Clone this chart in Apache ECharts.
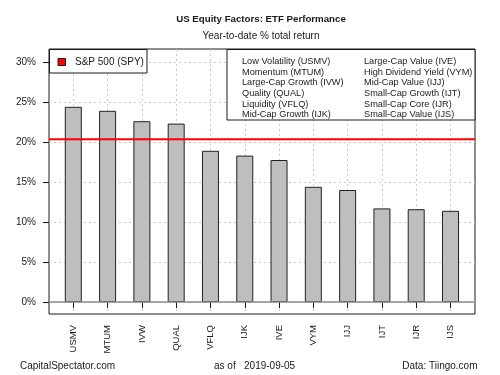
<!DOCTYPE html>
<html>
<head>
<meta charset="utf-8">
<script src="https://cdn.jsdelivr.net/npm/echarts@6/dist/echarts.min.js"></script>
<style>
    *{ margin:0; padding:0; }
    body{ background:#fff; }
    #chart{ width:500px; height:375px; }
</style>
</head>
<body>
<div id="chart"></div>
<script>
// data
var tickers = ['USMV', 'MTUM', 'IVW', 'QUAL', 'VFLQ', 'IJK', 'IVE', 'VYM', 'IJJ', 'IJT', 'IJR', 'IJS'];
var ytdReturn = [24.4, 23.9, 22.6, 22.3, 18.9, 18.3, 17.75, 14.4, 14.0, 11.7, 11.6, 11.4];
var spyReturn = 20.35;
var yTicks = [0, 5, 10, 15, 20, 25, 30];
var factorLeft = ['Low Volatility (USMV)', 'Momentum (MTUM)', 'Large-Cap Growth (IVW)', 'Quality (QUAL)', 'Liquidity (VFLQ)', 'Mid-Cap Growth (IJK)'];
var factorRight = ['Large-Cap Value (IVE)', 'High Dividend Yield (VYM)', 'Mid-Cap Value (IJJ)', 'Small-Cap Growth (IJT)', 'Small-Cap Core (IJR)', 'Small-Cap Value (IJS)'];

var FONT = "'Liberation Sans', Arial, sans-serif";
var INK = '#1a1a1a';
var yMin = -1.5, yMax = 31.625;

var chart = echarts.init(document.getElementById('chart'));

function txt(x, y, s, size, opts) {
    var st = { text: s, x: x, y: y, fontFamily: FONT, fontSize: size, fill: INK,
        textAlign: 'left', textVerticalAlign: 'middle' };
    for (var k in opts) st[k] = opts[k];
    return { type: 'text', z: 20, style: st };
}

var graphics = [
    txt(261, 19.5, 'US Equity Factors: ETF Performance', 9.7, { fontWeight: 'bold', textAlign: 'center' }),
    txt(261, 36.7, 'Year-to-date % total return', 10, { textAlign: 'center' }),
    txt(20, 366.5, 'CapitalSpectator.com', 10),
    txt(214, 366.5, 'as of   2019-09-05', 10),
    txt(477.5, 366.5, 'Data: Tiingo.com', 10, { textAlign: 'right' }),
    // legend box: S&P 500
    { type: 'rect', z: 10, shape: { x: 49.5, y: 49.5, width: 97.5, height: 23.5 },
      style: { fill: '#fff', stroke: INK, lineWidth: 1 } },
    { type: 'rect', z: 11, shape: { x: 58, y: 58.5, width: 7.5, height: 7 },
      style: { fill: '#ff0000', stroke: INK, lineWidth: 1 } },
    txt(75, 62.3, 'S&P 500 (SPY)', 10),
    // legend box: factor names
    { type: 'rect', z: 10, shape: { x: 227, y: 49.5, width: 248, height: 70.5 },
      style: { fill: '#fff', stroke: INK, lineWidth: 1 } }
];
factorLeft.forEach(function (s, i) {
    graphics.push(txt(242, 61.7 + i * 10.6, s, 9.2));
});
factorRight.forEach(function (s, i) {
    graphics.push(txt(364, 61.7 + i * 10.6, s, 9.2));
});

var option = {
    animation: false,
    backgroundColor: '#fff',
    textStyle: { fontFamily: FONT },
    grid: [
        { left: 49, right: 25, top: 49, bottom: 61, show: true,
          borderColor: INK, borderWidth: 1, backgroundColor: 'transparent' },
        { left: 73.3, right: 49.5, top: 49, bottom: 61 }
    ],
    xAxis: [
        { gridIndex: 0, type: 'value', min: 0, max: 1, show: false },
        { gridIndex: 1, type: 'category', data: tickers, boundaryGap: false,
          axisLine: { show: false },
          axisTick: { show: true, length: 6, inside: false, lineStyle: { color: INK } },
          axisLabel: { rotate: 90, margin: 11, fontSize: 9.5, color: INK, interval: 0, fontFamily: FONT },
          splitLine: { show: true, lineStyle: { color: '#c8c8c8', type: [2, 3] } } }
    ],
    yAxis: [
        { gridIndex: 0, type: 'value', min: yMin, max: yMax,
          axisLine: { show: false },
          axisTick: { show: true, length: 6, customValues: yTicks, lineStyle: { color: INK } },
          axisLabel: { customValues: yTicks, formatter: '{value}%', margin: 13, fontSize: 10, color: INK, fontFamily: FONT },
          splitLine: { show: true, lineStyle: { color: '#c8c8c8', type: [2, 3] } } },
        { gridIndex: 1, type: 'value', min: yMin, max: yMax, show: false, splitLine: { show: false } }
    ],
    series: [
        { type: 'bar', xAxisIndex: 1, yAxisIndex: 1, data: ytdReturn, barWidth: 17,
          itemStyle: { color: '#bebebe', borderColor: '#222', borderWidth: 1 } },
        { type: 'line', xAxisIndex: 0, yAxisIndex: 0, data: [[0, 0], [1, 0]],
          symbol: 'none', lineStyle: { color: '#8a8a8a', width: 1.6 } },
        { type: 'line', xAxisIndex: 0, yAxisIndex: 0, data: [[0, spyReturn], [1, spyReturn]],
          symbol: 'none', lineStyle: { color: '#ff0000', width: 2 } }
    ],
    graphic: graphics
};
chart.setOption(option);
</script>
</body>
</html>
